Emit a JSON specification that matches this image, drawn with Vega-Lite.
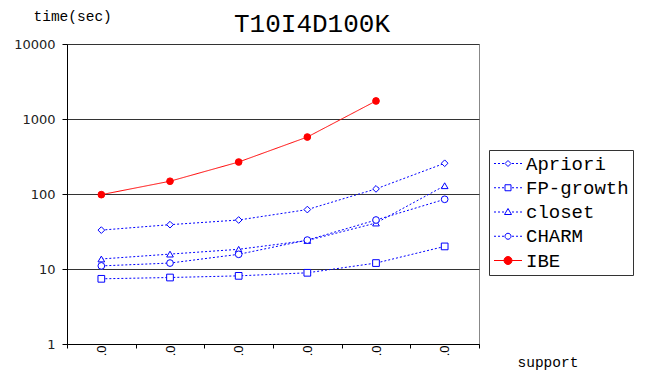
{
  "$schema": "https://vega.github.io/schema/vega-lite/v6.json",
  "width": 412,
  "height": 300,
  "autosize": {"type": "none"},
  "padding": {"left": 67, "top": 44, "right": 171, "bottom": 30},
  "background": "white",
  "title": {
    "text": "T10I4D100K",
    "font": "Liberation Mono",
    "fontSize": 26,
    "fontWeight": "normal",
    "color": "black",
    "anchor": "middle",
    "baseline": "alphabetic",
    "offset": 0,
    "dx": 39,
    "dy": 50
  },
  "config": {
    "view": {"stroke": "#888", "strokeWidth": 1}
  },
  "data": {
    "values": [
      {"support": 1, "series": "Apriori", "time": 33},
      {"support": 2, "series": "Apriori", "time": 39},
      {"support": 3, "series": "Apriori", "time": 45},
      {"support": 4, "series": "Apriori", "time": 62},
      {"support": 5, "series": "Apriori", "time": 117},
      {"support": 6, "series": "Apriori", "time": 257},
      {"support": 1, "series": "FP-growth", "time": 7.4},
      {"support": 2, "series": "FP-growth", "time": 7.7},
      {"support": 3, "series": "FP-growth", "time": 8.1},
      {"support": 4, "series": "FP-growth", "time": 8.9},
      {"support": 5, "series": "FP-growth", "time": 12},
      {"support": 6, "series": "FP-growth", "time": 20},
      {"support": 1, "series": "closet", "time": 13.6},
      {"support": 2, "series": "closet", "time": 15.8},
      {"support": 3, "series": "closet", "time": 18.3},
      {"support": 4, "series": "closet", "time": 24},
      {"support": 5, "series": "closet", "time": 41},
      {"support": 6, "series": "closet", "time": 129},
      {"support": 1, "series": "CHARM", "time": 11},
      {"support": 2, "series": "CHARM", "time": 12},
      {"support": 3, "series": "CHARM", "time": 15.7},
      {"support": 4, "series": "CHARM", "time": 24.3},
      {"support": 5, "series": "CHARM", "time": 45},
      {"support": 6, "series": "CHARM", "time": 85},
      {"support": 1, "series": "IBE", "time": 98},
      {"support": 2, "series": "IBE", "time": 148},
      {"support": 3, "series": "IBE", "time": 267},
      {"support": 4, "series": "IBE", "time": 575},
      {"support": 5, "series": "IBE", "time": 1740}
    ]
  },
  "encoding": {
    "x": {
      "field": "support",
      "type": "ordinal",
      "scale": {"paddingInner": 0, "paddingOuter": 0},
      "axis": {
        "title": "support",
        "titleFont": "Liberation Mono",
        "titleFontSize": 14.5,
        "titleFontWeight": "normal",
        "titleColor": "black",
        "titleX": 450,
        "titleY": 22.7,
        "titleAlign": "left",
        "titleBaseline": "alphabetic",
        "labelExpr": "datum.label == '' ? '' : '.0'",
        "labelAngle": 270,
        "labelFont": "Liberation Sans",
        "labelFontSize": 13,
        "labelColor": "black",
        "labelPadding": -3,
        "tickSize": 4,
        "tickBand": "extent",
        "tickExtra": true,
        "tickColor": "black",
        "domainColor": "black",
        "grid": false
      }
    },
    "y": {
      "field": "time",
      "type": "quantitative",
      "scale": {"type": "log", "domain": [1, 10000]},
      "axis": {
        "values": [1, 10, 100, 1000, 10000],
        "format": "d",
        "grid": true,
        "gridColor": "#333",
        "gridOpacity": 1,
        "tickSize": 5,
        "tickColor": "black",
        "domainColor": "black",
        "labelPadding": 7,
        "labelFont": "DejaVu Sans",
        "labelFontSize": 13,
        "labelColor": "#222",
        "title": "time(sec)",
        "titleAngle": 0,
        "titleX": -34,
        "titleY": -24,
        "titleAlign": "left",
        "titleBaseline": "alphabetic",
        "titleFont": "Liberation Mono",
        "titleFontSize": 14.5,
        "titleFontWeight": "normal",
        "titleColor": "black"
      }
    }
  },
  "layer": [
    {
      "mark": {"type": "line", "strokeWidth": 1},
      "encoding": {
        "stroke": {
          "field": "series",
          "type": "nominal",
          "scale": {
            "domain": ["Apriori", "FP-growth", "closet", "CHARM", "IBE"],
            "range": ["#0000ff", "#0000ff", "#0000ff", "#0000ff", "#ff0000"]
          },
          "legend": null
        },
        "strokeDash": {
          "field": "series",
          "type": "nominal",
          "scale": {
            "domain": ["Apriori", "FP-growth", "closet", "CHARM", "IBE"],
            "range": [[2, 2], [2, 2], [2, 2], [2, 2], [1, 0]]
          },
          "legend": null
        }
      }
    },
    {
      "mark": {"type": "point", "filled": false, "strokeWidth": 1, "opacity": 1, "size": 45},
      "encoding": {
        "shape": {
          "field": "series",
          "type": "nominal",
          "scale": {
            "domain": ["Apriori", "FP-growth", "closet", "CHARM", "IBE"],
            "range": ["diamond", "square", "triangle-up", "circle", "circle"]
          },
          "legend": null
        },
        "color": {
          "field": "series",
          "type": "nominal",
          "scale": {
            "domain": ["Apriori", "FP-growth", "closet", "CHARM", "IBE"],
            "range": ["#0000ff", "#0000ff", "#0000ff", "#0000ff", "#ff0000"]
          },
          "legend": null
        },
        "fill": {
          "field": "series",
          "type": "nominal",
          "scale": {
            "domain": ["Apriori", "FP-growth", "closet", "CHARM", "IBE"],
            "range": ["white", "white", "white", "white", "#ff0000"]
          },
          "legend": null
        }
      }
    },
    {
      "mark": {"type": "point", "filled": false, "strokeWidth": 1, "size": 0, "opacity": 1},
      "encoding": {
        "shape": {
          "field": "series",
          "type": "nominal",
          "scale": {
            "domain": ["Apriori", "FP-growth", "closet", "CHARM", "IBE"],
            "range": [
              "M-14,0H-12M-10,0H-8M-6,0H-4M4,0H6M8,0H10M12,0H14M-3,0L0,-3L3,0L0,3Z",
              "M-14,0H-12M-10,0H-8M-6,0H-4M4,0H6M8,0H10M12,0H14M-3,-3H3V3H-3Z",
              "M-14,0H-12M-10,0H-8M-6,0H-4M4,0H6M8,0H10M12,0H14M0,-3.5L3.5,2.5H-3.5Z",
              "M-14,0H-12M-10,0H-8M-6,0H-4M4,0H6M8,0H10M12,0H14M-3,0A3,3 0 1,0 3,0A3,3 0 1,0 -3,0Z",
              "M-14,0H-4M4,0H14M-4,0A4,4 0 1,0 4,0A4,4 0 1,0 -4,0Z"
            ]
          },
          "legend": {
            "orient": "none",
            "legendX": 422,
            "legendY": 106,
            "title": null,
            "padding": 4,
            "strokeColor": "#333",
            "fillColor": "white",
            "labelFont": "Liberation Mono",
            "labelFontSize": 19,
            "labelColor": "black",
            "symbolSize": 4,
            "symbolStrokeWidth": 1,
            "symbolOpacity": 1,
            "rowPadding": 4.25,
            "labelOffset": 8.5,
            "symbolOffset": 5.5
          }
        },
        "color": {
          "field": "series",
          "type": "nominal",
          "scale": {
            "domain": ["Apriori", "FP-growth", "closet", "CHARM", "IBE"],
            "range": ["#0000ff", "#0000ff", "#0000ff", "#0000ff", "#ff0000"]
          }
        },
        "fill": {
          "field": "series",
          "type": "nominal",
          "scale": {
            "domain": ["Apriori", "FP-growth", "closet", "CHARM", "IBE"],
            "range": ["white", "white", "white", "white", "#ff0000"]
          }
        }
      }
    }
  ],
  "resolve": {
    "scale": {"shape": "independent", "color": "independent", "fill": "independent"}
  }
}
